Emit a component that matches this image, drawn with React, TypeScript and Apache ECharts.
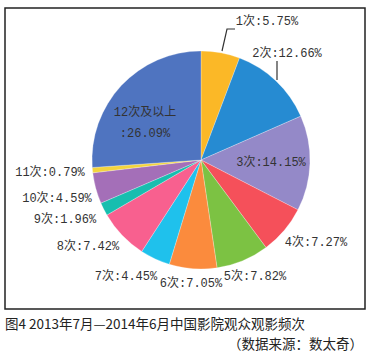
import React, { useEffect, useRef } from "react";
import * as echarts from "echarts";

const categories = ["1次", "2次", "3次", "4次", "5次", "6次", "7次", "8次", "9次", "10次", "11次", "12次及以上"];
const shares = [5.75, 12.66, 14.15, 7.27, 7.82, 7.05, 4.45, 7.42, 1.96, 4.59, 0.79, 26.09];
const colors = ["#FBB827", "#268BD2", "#9489C8", "#F5505A", "#7CC243", "#FB8B3D", "#1FC1EC", "#F8608F", "#17BEAF", "#A46FB8", "#F3D43E", "#4F74C0"];
const captionTitle = "图4 2013年7月—2014年6月中国影院观众观影频次";
const captionSource = "（数据来源：数太奇）";

// label layout (centre of each label) and leader lines
const labelSpots: [number, number][] = [
  [267, 22], [287, 54], [271, 163], [316, 243], [255, 277], [191, 284],
  [126, 277], [88, 247], [65, 220], [57, 199], [50, 173], [145, 123],
];
const leaderLines: [number, number][][] = [
  [[222, 51], [227, 29], [235, 29]],
  [[277, 80], [277, 61]],
];

export default function App() {
  const ref = useRef<HTMLDivElement>(null);
  useEffect(() => {
    document.body.style.margin = "0";
    const chart = echarts.init(ref.current!, undefined, { renderer: "svg" });
    const labelFont = "'Liberation Mono', 'DejaVu Sans Mono', 'Noto Sans CJK SC', monospace";
    chart.setOption({
      animation: false,
      backgroundColor: "#ffffff",
      graphic: [
        {
          type: "rect",
          shape: { x: 5, y: 8, width: 360, height: 301 },
          style: { fill: "none", stroke: "#222", lineWidth: 1.5 },
          silent: true,
        },
        ...leaderLines.map((pts) => ({
          type: "polyline",
          shape: { points: pts },
          style: { fill: "none", stroke: "#333", lineWidth: 1.2 },
          silent: true,
          z: 10,
        })),
        {
          type: "text",
          x: 5,
          y: 323,
          style: {
            text: captionTitle,
            font: "13.5px 'Noto Sans CJK SC', sans-serif",
            fill: "#222",
            textAlign: "left",
            textVerticalAlign: "middle",
          },
        },
        {
          type: "text",
          x: 363,
          y: 343,
          style: {
            text: captionSource,
            font: "13.5px 'Noto Sans CJK SC', sans-serif",
            fill: "#222",
            textAlign: "right",
            textVerticalAlign: "middle",
          },
        },
      ],
      series: [
        {
          type: "pie",
          center: [201, 160],
          radius: [0, 109],
          startAngle: 90,
          clockwise: true,
          avoidLabelOverlap: false,
          itemStyle: { borderColor: "rgba(255,255,255,0.5)", borderWidth: 0.5 },
          label: {
            show: true,
            position: "outside",
            fontFamily: labelFont,
            fontSize: 12,
            color: "#333",
            align: "center",
            verticalAlign: "middle",
            lineHeight: 21,
          },
          labelLine: { show: false },
          labelLayout: (p: any) => {
            const spot = labelSpots[p.dataIndex];
            return { x: spot[0], y: spot[1], align: "center", verticalAlign: "middle" };
          },
          data: categories.map((name, i) => ({
            name,
            value: shares[i],
            itemStyle: { color: colors[i] },
            label: {
              formatter: i === 11 ? `${name}\n:${shares[i].toFixed(2)}%` : `${name}:${shares[i].toFixed(2)}%`,
            },
          })),
        },
      ],
    });
    return () => chart.dispose();
  }, []);
  return <div ref={ref} style={{ width: 372, height: 355 }} />;
}
